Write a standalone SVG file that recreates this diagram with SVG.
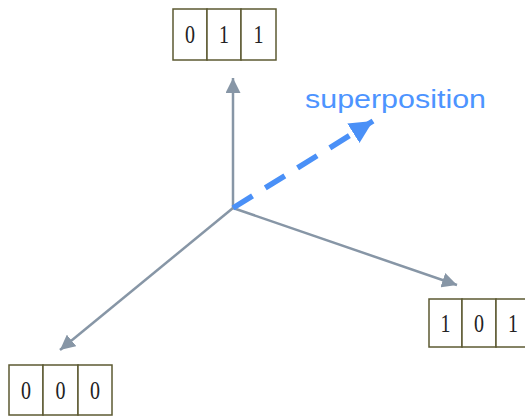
<svg xmlns="http://www.w3.org/2000/svg" width="525" height="416" viewBox="0 0 525 416">
<style>
.cell{fill:#ffffff;stroke:#5c5a32;stroke-width:1.5}
.dig{font-family:"Liberation Serif",serif;font-size:25px;fill:#222222;text-anchor:middle}
.ax{stroke:#8796a6;stroke-width:2.5;fill:none}
.sp{stroke:#4a90f7;stroke-width:5.5;fill:none;stroke-dasharray:23 15}
.lbl{font-family:"Liberation Sans",Arial,sans-serif;font-size:25px;fill:#4d94ff}
</style>
<defs>
<marker id="ga" viewBox="0 0 10 10" refX="10" refY="5" markerWidth="6" markerHeight="6" markerUnits="strokeWidth" orient="auto">
<path d="M0,0 L10,5 L0,10 z" fill="#8796a6"/>
</marker>
<marker id="ba" viewBox="0 0 10 10" refX="10" refY="5" markerWidth="4.2" markerHeight="4.2" markerUnits="strokeWidth" orient="auto">
<path d="M0,0 L10,5 L0,10 z" fill="#4a90f7"/>
</marker>
</defs>
<g id="connectors">
<line class="ax" x1="233" y1="208" x2="233" y2="78" marker-end="url(#ga)"/>
<line class="ax" x1="233" y1="208" x2="60" y2="350" marker-end="url(#ga)"/>
<line class="ax" x1="233" y1="208" x2="457" y2="285" marker-end="url(#ga)"/>
<line class="sp" x1="233" y1="208" x2="373" y2="121" marker-end="url(#ba)"/>
</g>
<g id="node-011">
<rect class="cell" x="173" y="9" width="34" height="51"/>
<rect class="cell" x="207" y="9" width="34" height="51"/>
<rect class="cell" x="241" y="9" width="35" height="51"/>
<text class="dig" x="190" y="43" textLength="10" lengthAdjust="spacingAndGlyphs">0</text>
<text class="dig" x="224" y="43" textLength="10" lengthAdjust="spacingAndGlyphs">1</text>
<text class="dig" x="258.5" y="43" textLength="10" lengthAdjust="spacingAndGlyphs">1</text>
</g>
<g id="node-101">
<rect class="cell" x="429" y="299" width="33" height="48"/>
<rect class="cell" x="462" y="299" width="34" height="48"/>
<rect class="cell" x="496" y="299" width="34" height="48"/>
<text class="dig" x="445.5" y="332" textLength="10" lengthAdjust="spacingAndGlyphs">1</text>
<text class="dig" x="479" y="332" textLength="10" lengthAdjust="spacingAndGlyphs">0</text>
<text class="dig" x="513" y="332" textLength="10" lengthAdjust="spacingAndGlyphs">1</text>
</g>
<g id="node-000">
<rect class="cell" x="9" y="365" width="34" height="50"/>
<rect class="cell" x="43" y="365" width="35" height="50"/>
<rect class="cell" x="78" y="365" width="34" height="50"/>
<text class="dig" x="26" y="399" textLength="10" lengthAdjust="spacingAndGlyphs">0</text>
<text class="dig" x="60.5" y="399" textLength="10" lengthAdjust="spacingAndGlyphs">0</text>
<text class="dig" x="95" y="399" textLength="10" lengthAdjust="spacingAndGlyphs">0</text>
</g>
<g id="label-superposition">
<text class="lbl" x="305" y="108" textLength="181" lengthAdjust="spacingAndGlyphs">superposition</text>
</g>
</svg>
